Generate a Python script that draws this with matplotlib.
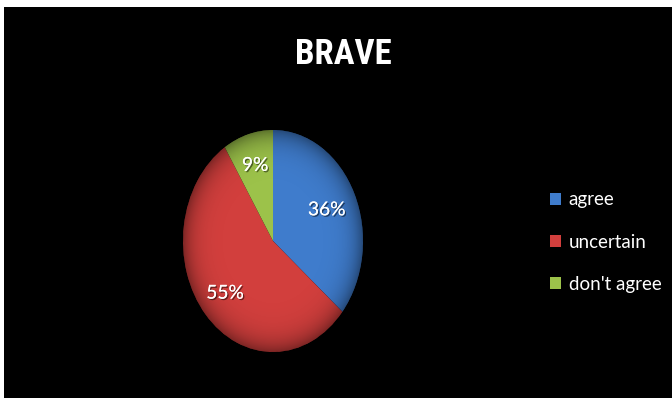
import numpy as np
import matplotlib
matplotlib.use("Agg")
import matplotlib.pyplot as plt
from matplotlib import font_manager as fm
from matplotlib.patches import Rectangle, Circle
import matplotlib.patheffects as pe

title = "BRAVE"
categories = ["agree", "uncertain", "don't agree"]
values = [36, 55, 9]
pct_labels = ["36%", "55%", "9%"]
colors = ["#3f7ccc", "#d23f3d", "#9cc24a"]


def pick(names):
    for n in names:
        try:
            fm.findfont(fm.FontProperties(family=n), fallback_to_default=False)
            return n
        except Exception:
            pass
    return "DejaVu Sans"


title_font = pick(["Liberation Sans Narrow", "Roboto Condensed", "Open Sans Condensed", "Lato"])
body_font = pick(["Lato", "Open Sans", "Liberation Sans"])
title_size = 25 if title_font != "Lato" else 23

W, H = 672, 398
fig = plt.figure(figsize=(W / 100, H / 100), dpi=100, facecolor="white")
fig.patches.append(Rectangle((4 / W, 0), 1 - 4 / W, (H - 7) / H,
                             transform=fig.transFigure, facecolor="black",
                             edgecolor="none", zorder=-5))

# pie axes spans the ellipse bounding box
x0, x1, y0, y1 = 183, 363, 130, 352
ax = fig.add_axes([x0 / W, 1 - y1 / H, (x1 - x0) / W, (y1 - y0) / H], zorder=2)
wedges, texts = ax.pie(values, colors=colors, startangle=90, counterclock=False,
                       radius=1.0, wedgeprops=dict(linewidth=0))
ax.patch.set_visible(False)
ax.axis("off")

# subtle bevel shading
n = 400
yy, xx = np.mgrid[-1:1:n * 1j, -1:1:n * 1j]
rr = np.sqrt(xx ** 2 + yy ** 2)
shade = np.zeros((n, n, 4))
shade[..., 3] = np.clip(0.4 * (rr ** 8), 0, 0.4)
im = ax.imshow(shade, extent=(-1, 1, -1, 1), origin="lower", zorder=3,
               interpolation="bilinear")
im.set_clip_path(Circle((0, 0), 1, transform=ax.transData))
ax.set_aspect("auto")
ax.set_xlim(-1, 1)
ax.set_ylim(-1, 1)

# percentage labels
start = 90.0
total = float(sum(values))
shadow = [pe.withSimplePatchShadow(offset=(1, -1), shadow_rgbFace="black", alpha=0.5), pe.Normal()]
for v, lab, dist in zip(values, pct_labels, [0.66, 0.71, 0.71]):
    ang = np.deg2rad(start - v / total * 180.0)
    start -= v / total * 360.0
    ax.text(dist * np.cos(ang), dist * np.sin(ang), lab, color="white",
            fontsize=13.8, family=body_font, ha="center", va="center", zorder=5,
            path_effects=shadow)

# title
fig.text(343 / W, 1 - 54 / H, title, color="white", fontsize=title_size, fontweight="bold",
         family=title_font, ha="center", va="center")

# legend
handles = [Rectangle((0, 0), 1, 1, facecolor=c, edgecolor="none") for c in colors]
leg = fig.legend(handles, categories, loc="center left",
                 bbox_to_anchor=(550 / W, 1 - 242 / H), frameon=False,
                 handlelength=0.6, handleheight=0.6, handletextpad=0.4,
                 labelspacing=1.35, borderpad=0, borderaxespad=0,
                 prop=dict(family=body_font, size=13.5))
for t in leg.get_texts():
    t.set_color("white")

fig.savefig("out.png", dpi=100, facecolor=fig.get_facecolor())
